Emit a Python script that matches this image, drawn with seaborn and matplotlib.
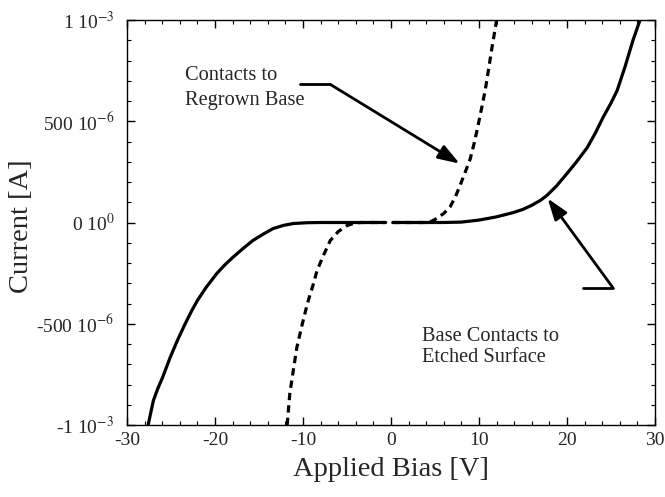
import numpy as np
import pandas as pd
import matplotlib
matplotlib.use("Agg")
import matplotlib.pyplot as plt
import seaborn as sns
from matplotlib.ticker import MultipleLocator

# ---- data, current in microamps ----
etched_neg_V = [-27.6, -27.0, -26.5, -26.0, -25.1, -24.3, -23.5, -22.7, -22.0, -21.0, -19.8, -18.9,
                -18.0, -16.8, -15.7, -14.5, -13.4, -12.2, -11.1, -9.5, -8.0, -6.0, -3.0, -0.6]
etched_neg_I = [-1000, -879, -820, -770, -667, -585, -510, -440, -385, -320, -252, -210,
                -173, -128, -89, -57, -30, -14, -5, -1, 0, 0, 0, 0]
etched_pos_V = [0.2, 4.0, 6.0, 8.0, 10.0, 12.0, 13.9, 15.0, 16.0, 17.0, 17.7, 18.8, 20.0, 21.0,
                22.3, 23.2, 24.1, 25.0, 25.7, 26.6, 27.5, 28.3]
etched_pos_I = [0, 0, 0, 2, 12, 28, 49, 65, 85, 110, 133, 180, 242, 295,
                370, 440, 519, 590, 652, 770, 900, 1000]
regrown_neg_V = [-11.8, -11.5, -11.1, -10.7, -10.1, -9.5, -8.9, -8.4, -7.6, -6.9, -6.0, -5.0, -4.2, -3.5, -2.0, -0.6]
regrown_neg_I = [-1000, -845, -730, -617, -505, -400, -315, -237, -155, -89, -45, -15, -4, 0, 0, 0]
regrown_pos_V = [0.2, 2.0, 4.1, 4.7, 5.2, 6.0, 6.7, 7.3, 7.8, 8.4, 9.0, 9.5, 9.9, 10.3, 10.7, 11.1, 11.5, 12.0]
regrown_pos_I = [0, 0, 0, 8, 20, 45, 76, 125, 178, 245, 314, 400, 481, 565, 652, 760, 870, 1000]

x_ticks = [-30, -20, -10, 0, 10, 20, 30]
y_ticks = [-1e-3, -500e-6, 0, 500e-6, 1e-3]
y_tick_labels = [r"-1 10$^{-3}$", r"-500 10$^{-6}$", r"0 10$^{0}$", r"500 10$^{-6}$", r"1 10$^{-3}$"]


def make_df(segs):
    rows = []
    for k, (vs, cs) in enumerate(segs):
        for v, c in zip(vs, cs):
            rows.append({"V": v, "I": c * 1e-6, "seg": k})
    return pd.DataFrame(rows)


df_etched = make_df([(etched_neg_V, etched_neg_I), (etched_pos_V, etched_pos_I)])
df_regrown = make_df([(regrown_neg_V, regrown_neg_I), (regrown_pos_V, regrown_pos_I)])

sns.set_style("ticks")
plt.rcParams["font.family"] = ["Liberation Serif", "DejaVu Serif"]
plt.rcParams["mathtext.fontset"] = "stix"

fig = plt.figure(figsize=(6.65, 4.97), dpi=100)
ax = fig.add_axes([127 / 665, 1 - 425 / 497, 528 / 665, 405 / 497])

sns.lineplot(data=df_etched, x="V", y="I", units="seg", estimator=None, sort=False,
             color="black", linewidth=2.3, ax=ax)
sns.lineplot(data=df_regrown, x="V", y="I", units="seg", estimator=None, sort=False,
             color="black", linewidth=2.3, ax=ax)
ax.lines[-1].set_dashes([2.3, 1.6])
ax.lines[-2].set_dashes([2.3, 1.6])

ax.set_xlim(-30, 30)
ax.set_ylim(-1e-3, 1e-3)
ax.set_xticks(x_ticks)
ax.set_xticklabels([str(t) for t in x_ticks])
ax.set_yticks(y_ticks)
ax.set_yticklabels(y_tick_labels)
ax.xaxis.set_minor_locator(MultipleLocator(2))
ax.yaxis.set_minor_locator(MultipleLocator(100e-6))
ax.tick_params(which="both", direction="in", top=True, right=True, labelsize=14, color="black")
ax.tick_params(axis="y", which="major", pad=9)
ax.tick_params(axis="x", which="major", pad=5)
ax.tick_params(which="major", length=6, width=1)
ax.tick_params(which="minor", length=3, width=0.8)
for s in ax.spines.values():
    s.set_linewidth(1.0)
    s.set_color("black")

ax.set_xlabel("Applied Bias [V]", fontsize=20.5, va="center")
ax.xaxis.set_label_coords(0.5, (425 - 469) / 405)
ax.set_ylabel("Current [A]", fontsize=20.5, va="center")
ax.yaxis.set_label_coords((22 - 127) / 528, (425 - 226) / 405)

# annotations
arrow_kw = dict(arrowstyle="-|>,head_length=1.3,head_width=0.45", color="black", lw=2,
                shrinkA=0, shrinkB=0)
ax.text(-23.4, 726e-6, "Contacts to", fontsize=14.7, va="center", ha="left")
ax.text(-23.4, 603e-6, "Regrown Base", fontsize=14.7, va="center", ha="left")
ax.plot([-10.3, -6.9], [682e-6, 682e-6], color="black", lw=2)
ax.annotate("", xy=(7.8, 291e-6), xytext=(-6.9, 682e-6), arrowprops=arrow_kw)

ax.text(3.5, -562e-6, "Base Contacts to", fontsize=14.7, va="center", ha="left")
ax.text(3.5, -666e-6, "Etched Surface", fontsize=14.7, va="center", ha="left")
ax.plot([21.8, 25.2], [-321e-6, -321e-6], color="black", lw=2)
ax.annotate("", xy=(17.8, 119e-6), xytext=(25.2, -321e-6), arrowprops=arrow_kw)

fig.savefig("out.png", dpi=100)
